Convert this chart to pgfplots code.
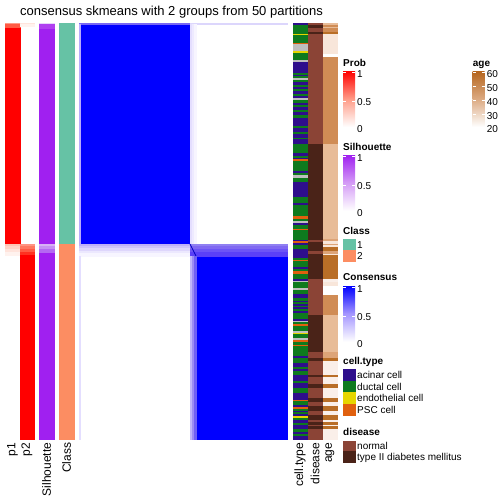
\documentclass[border=0pt]{standalone}
\usepackage{fontspec}
\setmainfont{Liberation Sans}
\usepackage{pgfplots}
\pgfplotsset{compat=1.18}
% annotation colours
\definecolor{ac}{HTML}{2E0E8C}
\definecolor{du}{HTML}{0E7A1E}
\definecolor{en}{HTML}{E6D600}
\definecolor{ps}{HTML}{E0600E}
\definecolor{na}{HTML}{BEBEBE}
\definecolor{no}{HTML}{8B4436}
\definecolor{t2}{HTML}{4A2318}
\definecolor{aVL}{HTML}{FAEFE9}
\definecolor{aL}{HTML}{F8E6DA}
\definecolor{aM}{HTML}{E8BC98}
\definecolor{aMT}{HTML}{DDA478}
\definecolor{aT}{HTML}{D08C55}
\definecolor{aB}{HTML}{B96E27}
\definecolor{cl1}{HTML}{66C2A5}
\definecolor{cl2}{HTML}{FC8D62}
\definecolor{sil}{HTML}{A020F0}
% consensus edge colours
\definecolor{cA}{HTML}{7866F4}
\definecolor{cB}{HTML}{B8ACFC}
\definecolor{cC}{HTML}{DCD6FC}
\definecolor{cD}{HTML}{E4DEFF}
\definecolor{cE}{HTML}{EEEAFF}
\definecolor{cF}{HTML}{F7F5FF}
\definecolor{cG}{HTML}{BEB0F8}
\definecolor{cH}{HTML}{CEC4FA}
\definecolor{cI}{HTML}{DED6FC}
\definecolor{cJ}{HTML}{ECE8FE}
\definecolor{cK}{HTML}{9080F2}
\definecolor{cL}{HTML}{8068F2}
\definecolor{cM}{HTML}{6C54F6}
\definecolor{cN}{HTML}{5A40F8}
\definecolor{cO}{HTML}{C0B6FA}
\definecolor{cP}{HTML}{9C8CF4}
\definecolor{cQ}{HTML}{7060F4}
% prob / silhouette edge colours
\definecolor{pA}{HTML}{FF9A88}
\definecolor{pB}{HTML}{FF5A44}
\definecolor{pC}{HTML}{FFC4B4}
\definecolor{pD}{HTML}{FFD4C8}
\definecolor{pE}{HTML}{FFE4DC}
\definecolor{pF}{HTML}{FFF2EE}
\definecolor{pG}{HTML}{FF9482}
\definecolor{pH}{HTML}{FF7860}
\definecolor{pI}{HTML}{FF3020}
\definecolor{sA}{HTML}{E8D6FA}
\definecolor{sB}{HTML}{B040F0}
\definecolor{sC}{HTML}{D8B0F5}
\definecolor{sD}{HTML}{C690F3}
\definecolor{sE}{HTML}{B468F2}
% legend mid colours
\definecolor{probmid}{HTML}{FF9C88}
\definecolor{silmid}{HTML}{D49CF6}
\definecolor{conmid}{HTML}{A496FF}
\definecolor{agetop}{HTML}{B5651D}
\definecolor{agemid}{HTML}{DCAA82}

\newcommand{\rect}[5]{\addplot[fill=#5,draw=#5,line width=0.1pt,forget plot] coordinates {(#1,#3) (#2,#3) (#2,#4) (#1,#4)} -- cycle;}
\newcommand{\ct}[3]{\rect{293}{307}{#1}{#2}{#3}}
\newcommand{\dz}[3]{\rect{308}{322}{#1}{#2}{#3}}
\newcommand{\ag}[3]{\rect{323}{337}{#1}{#2}{#3}}
\newcommand{\gbar}[6]{% x1 x2 y1 y2 topcolor midcolor bottom white
\addplot[draw=none,top color=#5,bottom color=#6,forget plot] coordinates {(#1,#3) (#2,#3) (#2,{(#3+#4)/2}) (#1,{(#3+#4)/2})} -- cycle;
\addplot[draw=none,top color=#6,bottom color=white,forget plot] coordinates {(#1,{(#3+#4)/2}) (#2,{(#3+#4)/2}) (#2,#4) (#1,#4)} -- cycle;}
\newcommand{\dash}[3]{% x1 x2 y
\addplot[white,line width=0.6pt,forget plot] coordinates {(#1,#3) ({#1+3},#3)};
\addplot[white,line width=0.6pt,forget plot] coordinates {({#2-3},#3) (#2,#3)};}

\begin{document}
\begin{tikzpicture}
\begin{axis}[scale only axis, width=504pt, height=504pt,
  xmin=0, xmax=504, ymin=0, ymax=504, y dir=reverse,
  hide axis, clip=false]
\addplot[draw=none,forget plot] coordinates {(0,0) (504,504)};
% ---- Prob p1
\rect{5}{20}{23}{244}{red}
\rect{5}{20}{23}{24.5}{pA}
\rect{5}{20}{24.5}{27}{pB}
\rect{5}{20}{244}{246.5}{pC}
\rect{5}{20}{246.5}{249}{pD}
\rect{5}{20}{249}{252}{pE}
\rect{5}{20}{252}{255}{pF}
% ---- Prob p2
\rect{20}{34}{23}{24.5}{pE}
\rect{20}{34}{24.5}{26}{pF}
\rect{20}{34}{244}{246.5}{pG}
\rect{20}{34}{246.5}{249}{pH}
\rect{20}{34}{249}{252}{pB}
\rect{20}{34}{252}{255}{pI}
\rect{20}{34}{255}{439}{red}
% ---- Silhouette
\rect{39}{54}{23}{439}{sil}
\rect{39}{54}{23}{24.5}{sA}
\rect{39}{54}{24.5}{28}{sB}
\rect{39}{54}{244}{246}{sC}
\rect{39}{54}{246}{249}{sD}
\rect{39}{54}{249}{252}{sE}
% ---- Class
\rect{59}{74}{23}{244}{cl1}
\rect{59}{74}{244}{439}{cl2}
% ---- consensus matrix
\rect{79}{190}{23}{244}{blue}
\rect{79}{190}{23}{24.5}{cA}
\rect{79}{80.5}{24.5}{244}{cB}
\rect{190}{287}{23}{24.5}{cC}
\rect{190}{192}{24.5}{244}{cD}
\rect{192}{194}{24.5}{244}{cE}
\rect{194}{196}{24.5}{244}{cF}
\rect{79}{190}{244}{246}{cG}
\rect{79}{190}{246}{248.5}{cH}
\rect{79}{190}{248.5}{251}{cI}
\rect{79}{190}{251}{253.5}{cJ}
\rect{79}{190}{253.5}{256}{cF}
\rect{79}{80.5}{256}{439}{cD}
\rect{190}{287}{244}{439}{blue}
\rect{190}{287}{244}{246}{cK}
\rect{190}{287}{246}{249}{cL}
\rect{190}{287}{249}{252.5}{cM}
\rect{190}{287}{252.5}{256}{cN}
\rect{190}{192}{256}{439}{cO}
\rect{192}{194}{256}{439}{cP}
\rect{194}{196}{256}{439}{cQ}
\addplot[blue!75!black,line width=0.8pt,forget plot] coordinates {(190,244) (196,256)};
% ---- cell.type
\ct{23}{25}{ac}
\ct{25}{33.7}{du}
\ct{33.7}{34.7}{en}
\ct{34.7}{43}{du}
\ct{43}{44}{ps}
\ct{44}{51.3}{na}
\ct{51.3}{52.7}{en}
\ct{52.7}{59.7}{du}
\ct{59.7}{61.7}{na}
\ct{61.7}{73}{ac}
\ct{73}{74.7}{du}
\ct{74.7}{76.3}{ac}
\ct{76.3}{78.3}{du}
\ct{78.3}{79.7}{na}
\ct{79.7}{82}{du}
\ct{82}{84.7}{ac}
\ct{84.7}{86.7}{du}
\ct{86.7}{89}{ac}
\ct{89}{91.3}{du}
\ct{91.3}{94}{ac}
\ct{94}{95.7}{du}
\ct{95.7}{98}{ac}
\ct{98}{99.7}{na}
\ct{99.7}{103}{du}
\ct{103}{105.3}{ac}
\ct{105.3}{106.7}{du}
\ct{106.7}{110}{ac}
\ct{110}{111.7}{du}
\ct{111.7}{115}{ac}
\ct{115}{117.7}{du}
\ct{117.7}{125.7}{ac}
\ct{125.7}{127.7}{du}
\ct{127.7}{132.3}{ac}
\ct{132.3}{134.3}{du}
\ct{134.3}{137.7}{ac}
\ct{137.7}{139.3}{du}
\ct{139.3}{144}{ac}
\ct{144}{152.7}{du}
\ct{152.7}{155.7}{ac}
\ct{155.7}{157.7}{du}
\ct{157.7}{159.3}{ac}
\ct{159.3}{161}{ps}
\ct{161}{170.7}{du}
\ct{170.7}{173.3}{ac}
\ct{173.3}{175}{du}
\ct{175}{177.7}{na}
\ct{177.7}{182.3}{du}
\ct{182.3}{196.7}{ac}
\ct{196.7}{203}{du}
\ct{203}{205}{ac}
\ct{205}{216.3}{du}
\ct{216.3}{218.7}{ps}
\ct{218.7}{221.3}{du}
\ct{221.3}{223}{na}
\ct{223}{225.3}{ac}
\ct{225.3}{228.7}{du}
\ct{228.7}{230.3}{ps}
\ct{230.3}{239.7}{du}
\ct{239.7}{241.3}{ac}
\ct{241.3}{243}{ps}
\ct{243}{244.7}{ac}
\ct{244.7}{249.3}{du}
\ct{249.3}{258}{ac}
\ct{258}{259.7}{du}
\ct{259.7}{260.7}{ps}
\ct{260.7}{267}{du}
\ct{267}{268.7}{ac}
\ct{268.7}{271.3}{du}
\ct{271.3}{273.7}{ps}
\ct{273.7}{278.7}{du}
\ct{278.7}{280.7}{ac}
\ct{280.7}{282.3}{na}
\ct{282.3}{288}{du}
\ct{288}{290}{na}
\ct{290}{294}{du}
\ct{294}{298.3}{ac}
\ct{298.3}{300.7}{du}
\ct{300.7}{302.3}{ac}
\ct{302.3}{304}{du}
\ct{304}{305.7}{ac}
\ct{305.7}{307.3}{du}
\ct{307.3}{309}{ac}
\ct{309}{310.7}{du}
\ct{310.7}{313}{ac}
\ct{313}{319}{du}
\ct{319}{320.7}{ac}
\ct{320.7}{322.3}{na}
\ct{322.3}{324}{du}
\ct{324}{325.7}{ps}
\ct{325.7}{331.3}{du}
\ct{331.3}{333}{na}
\ct{333}{334}{en}
\ct{334}{338.3}{du}
\ct{338.3}{339.7}{na}
\ct{339.7}{341.7}{ps}
\ct{341.7}{345}{du}
\ct{345}{346.3}{ps}
\ct{346.3}{355.7}{du}
\ct{355.7}{358}{ac}
\ct{358}{363}{du}
\ct{363}{367.3}{ac}
\ct{367.3}{369}{du}
\ct{369}{371.3}{ac}
\ct{371.3}{374.7}{du}
\ct{374.7}{380.7}{ac}
\ct{380.7}{383}{du}
\ct{383}{388}{ac}
\ct{388}{393}{du}
\ct{393}{399.7}{ac}
\ct{399.7}{401.3}{ps}
\ct{401.3}{404.7}{du}
\ct{404.7}{407.3}{ac}
\ct{407.3}{408.7}{ps}
\ct{408.7}{410.7}{du}
\ct{410.7}{412.3}{ac}
\ct{412.3}{414}{du}
\ct{414}{415.7}{ac}
\ct{415.7}{418}{en}
\ct{418}{419.7}{du}
\ct{419.7}{423}{ac}
\ct{423}{424.7}{du}
\ct{424.7}{428.7}{ac}
\ct{428.7}{432}{du}
\ct{432}{434}{ac}
\ct{434}{435.7}{du}
\ct{435.7}{439}{ac}
% ---- disease
\dz{23}{25}{no}
\dz{25}{28}{t2}
\dz{28}{32}{no}
\dz{32}{34}{t2}
\dz{34}{144}{no}
\dz{144}{239.7}{t2}
\dz{239.7}{242}{no}
\dz{242}{250.7}{t2}
\dz{250.7}{254}{no}
\dz{254}{279.3}{t2}
\dz{279.3}{315}{no}
\dz{315}{351.7}{t2}
\dz{351.7}{358.3}{no}
\dz{358.3}{360.7}{t2}
\dz{360.7}{374.7}{no}
\dz{374.7}{377}{t2}
\dz{377}{384}{no}
\dz{384}{388}{t2}
\dz{388}{398}{no}
\dz{398}{402}{t2}
\dz{402}{406.3}{no}
\dz{406.3}{410.7}{t2}
\dz{410.7}{415.3}{no}
\dz{415.3}{420}{t2}
\dz{420}{422.3}{no}
\dz{422.3}{424.7}{t2}
\dz{424.7}{426.3}{no}
\dz{426.3}{428.7}{t2}
\dz{428.7}{439}{no}
% ---- age
\ag{23}{25}{aM}
\ag{25}{27}{aT}
\ag{27}{28}{aM}
\ag{28}{32}{aT}
\ag{32}{34}{aB}
\ag{34}{52.7}{aL}
\ag{57}{144}{aT}
\ag{144}{239.3}{aM}
\ag{239.3}{241.3}{aMT}
\ag{241.3}{243.7}{aL}
\ag{243.7}{245.3}{aMT}
\ag{245.3}{247}{aL}
\ag{247}{251.3}{aB}
\ag{251.3}{253.7}{aMT}
\ag{253.7}{255.3}{aL}
\ag{255.3}{279.3}{aB}
\ag{279.3}{282.3}{aVL}
\ag{282.3}{284.7}{aL}
\ag{295}{315}{aT}
\ag{315}{351.7}{aM}
\ag{351.7}{358.3}{aMT}
\ag{358.3}{360.7}{aB}
\ag{360.7}{374.7}{aVL}
\ag{374.7}{377}{aB}
\ag{377}{384}{aVL}
\ag{384}{388}{aB}
\ag{388}{398}{aVL}
\ag{398}{402}{aB}
\ag{402}{406.3}{aVL}
\ag{406.3}{410.7}{aB}
\ag{410.7}{415.3}{aVL}
\ag{415.3}{420}{aB}
\ag{420}{422.3}{aVL}
\ag{422.3}{424.7}{aB}
\ag{424.7}{426.3}{aVL}
\ag{426.3}{428.7}{aB}
\ag{428.7}{439}{aVL}
% ---- legends
\gbar{343}{355}{71}{127}{red}{probmid}
\dash{343}{355}{72.5}
\dash{343}{355}{101.3}
\gbar{343}{355}{155}{210.7}{sil}{silmid}
\dash{343}{355}{156.5}
\dash{343}{355}{185.5}
\rect{343}{355}{239.3}{250.3}{cl1}
\rect{343}{355}{250.3}{261.3}{cl2}
\gbar{343}{355}{286}{341.7}{blue}{conmid}
\dash{343}{355}{287.5}
\dash{343}{355}{316.3}
\gbar{472.7}{484.7}{71}{127}{agetop}{agemid}
\dash{472.7}{484.7}{72.5}
\dash{472.7}{484.7}{86.5}
\dash{472.7}{484.7}{100.5}
\dash{472.7}{484.7}{114.5}
\rect{343}{355}{369.5}{381}{ac}
\rect{343}{355}{381}{392.5}{du}
\rect{343}{355}{392.5}{404}{en}
\rect{343}{355}{404}{415.5}{ps}
\rect{343}{355}{440.7}{451.3}{no}
\rect{343}{355}{451.3}{462}{t2}

% ---- texts
\node[font=\fontsize{13}{15}\selectfont, anchor=base] at (axis cs:171.5,15) {consensus skmeans with 2 groups from 50 partitions};
\begin{scope}[every node/.style={font=\fontsize{10}{12}\selectfont\bfseries, anchor=base west, inner sep=0pt}]
\node at (axis cs:343,66.5) {Prob};
\node at (axis cs:343,150.3) {Silhouette};
\node at (axis cs:343,234.3) {Class};
\node at (axis cs:343,280.8) {Consensus};
\node at (axis cs:472.7,66.5) {age};
\node at (axis cs:343,364.3) {cell.type};
\node at (axis cs:343,435.4) {disease};
\end{scope}
\begin{scope}[every node/.style={font=\fontsize{10}{12}\selectfont, anchor=base west, inner sep=0pt}]
\node at (axis cs:357,77.1) {1};
\node at (axis cs:357,105.1) {0.5};
\node at (axis cs:357,132.9) {0};
\node at (axis cs:357,161.3) {1};
\node at (axis cs:357,189.1) {0.5};
\node at (axis cs:357,216.8) {0};
\node at (axis cs:357,248.4) {1};
\node at (axis cs:357,259.4) {2};
\node at (axis cs:357,292.3) {1};
\node at (axis cs:357,320.1) {0.5};
\node at (axis cs:357,347.9) {0};
\node at (axis cs:486.7,77.1) {60};
\node at (axis cs:486.7,91.1) {50};
\node at (axis cs:486.7,105.1) {40};
\node at (axis cs:486.7,119.0) {30};
\node at (axis cs:486.7,132.9) {20};
\node at (axis cs:357,378.9) {acinar cell};
\node at (axis cs:357,390.4) {ductal cell};
\node at (axis cs:357,401.9) {endothelial cell};
\node at (axis cs:357,413.4) {PSC cell};
\node at (axis cs:357,449.6) {normal};
\node at (axis cs:357,460.3) {type II diabetes mellitus};
\end{scope}
\begin{scope}[every node/.style={font=\fontsize{12}{14}\selectfont, anchor=east, rotate=90, inner sep=0pt}]
\node at (axis cs:12.5,442.5) {p1};
\node at (axis cs:27,442.5) {p2};
\node at (axis cs:46.5,442.5) {Silhouette};
\node at (axis cs:66.5,442.5) {Class};
\node at (axis cs:300,442.5) {cell.type};
\node at (axis cs:315,442.5) {disease};
\node at (axis cs:330,442.5) {age};
\end{scope}
\end{axis}
\end{tikzpicture}
\end{document}
